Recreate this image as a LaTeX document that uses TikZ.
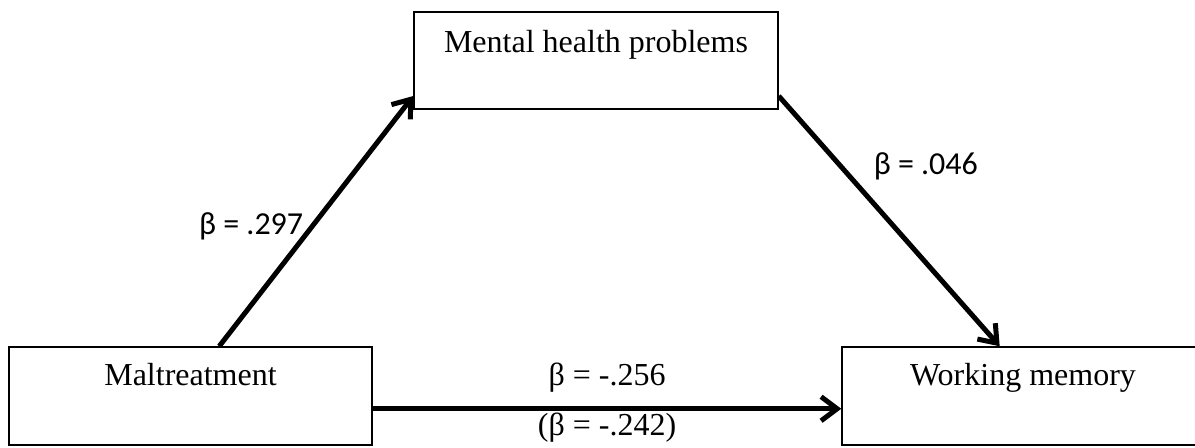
\documentclass[tikz,border=0pt]{standalone}
\usepackage{fontspec}
\setmainfont{Liberation Serif}
\newfontfamily\calibrifont{Carlito}
\usetikzlibrary{arrows.meta}

\begin{document}
\begin{tikzpicture}[x=0.5pt, y=0.5pt,
  box/.style={draw, line width=0.75pt, minimum width=181.5pt, minimum height=49pt, inner sep=0pt},
  boxtext/.style={anchor=base, font=\fontsize{16}{19}\selectfont, yshift=-19.5pt},
  arrow/.style={-{Straight Barb[length=8pt, width=12pt]}, line width=2.5pt},
  coef/.style={font=\fontsize{16}{19}\selectfont},
  coefsans/.style={font=\calibrifont\fontsize{16}{19}\selectfont}
]
  \clip (0,0) rectangle (1195,447);
  \node[box, label={[boxtext]north:Maltreatment}] (malt) at (190.5,51) {};
  \node[box, minimum width=182pt, minimum height=48.5pt,
        label={[boxtext, yshift=-1pt]north:Mental health problems}] (mental) at (596,386.5) {};
  \node[box, minimum width=190pt, label={[boxtext, xshift=-4.5pt]north:Working memory}] (work) at (1032,51) {};

  \draw[arrow] (malt.60) -- (mental.191) node[pos=.48, anchor=east, coefsans] {β = .297};
  \draw[arrow] (mental.-11) -- (work.123) node[pos=.28, anchor=west, xshift=12pt, coefsans] {β = .046};
  \draw[arrow] (malt.-4) -- (malt.-4 -| work.west)
    node[midway, yshift=15.5pt, coef] {β = -.256}
    node[midway, yshift=-9.5pt, coef] {(β = -.242)};
\end{tikzpicture}
\end{document}
